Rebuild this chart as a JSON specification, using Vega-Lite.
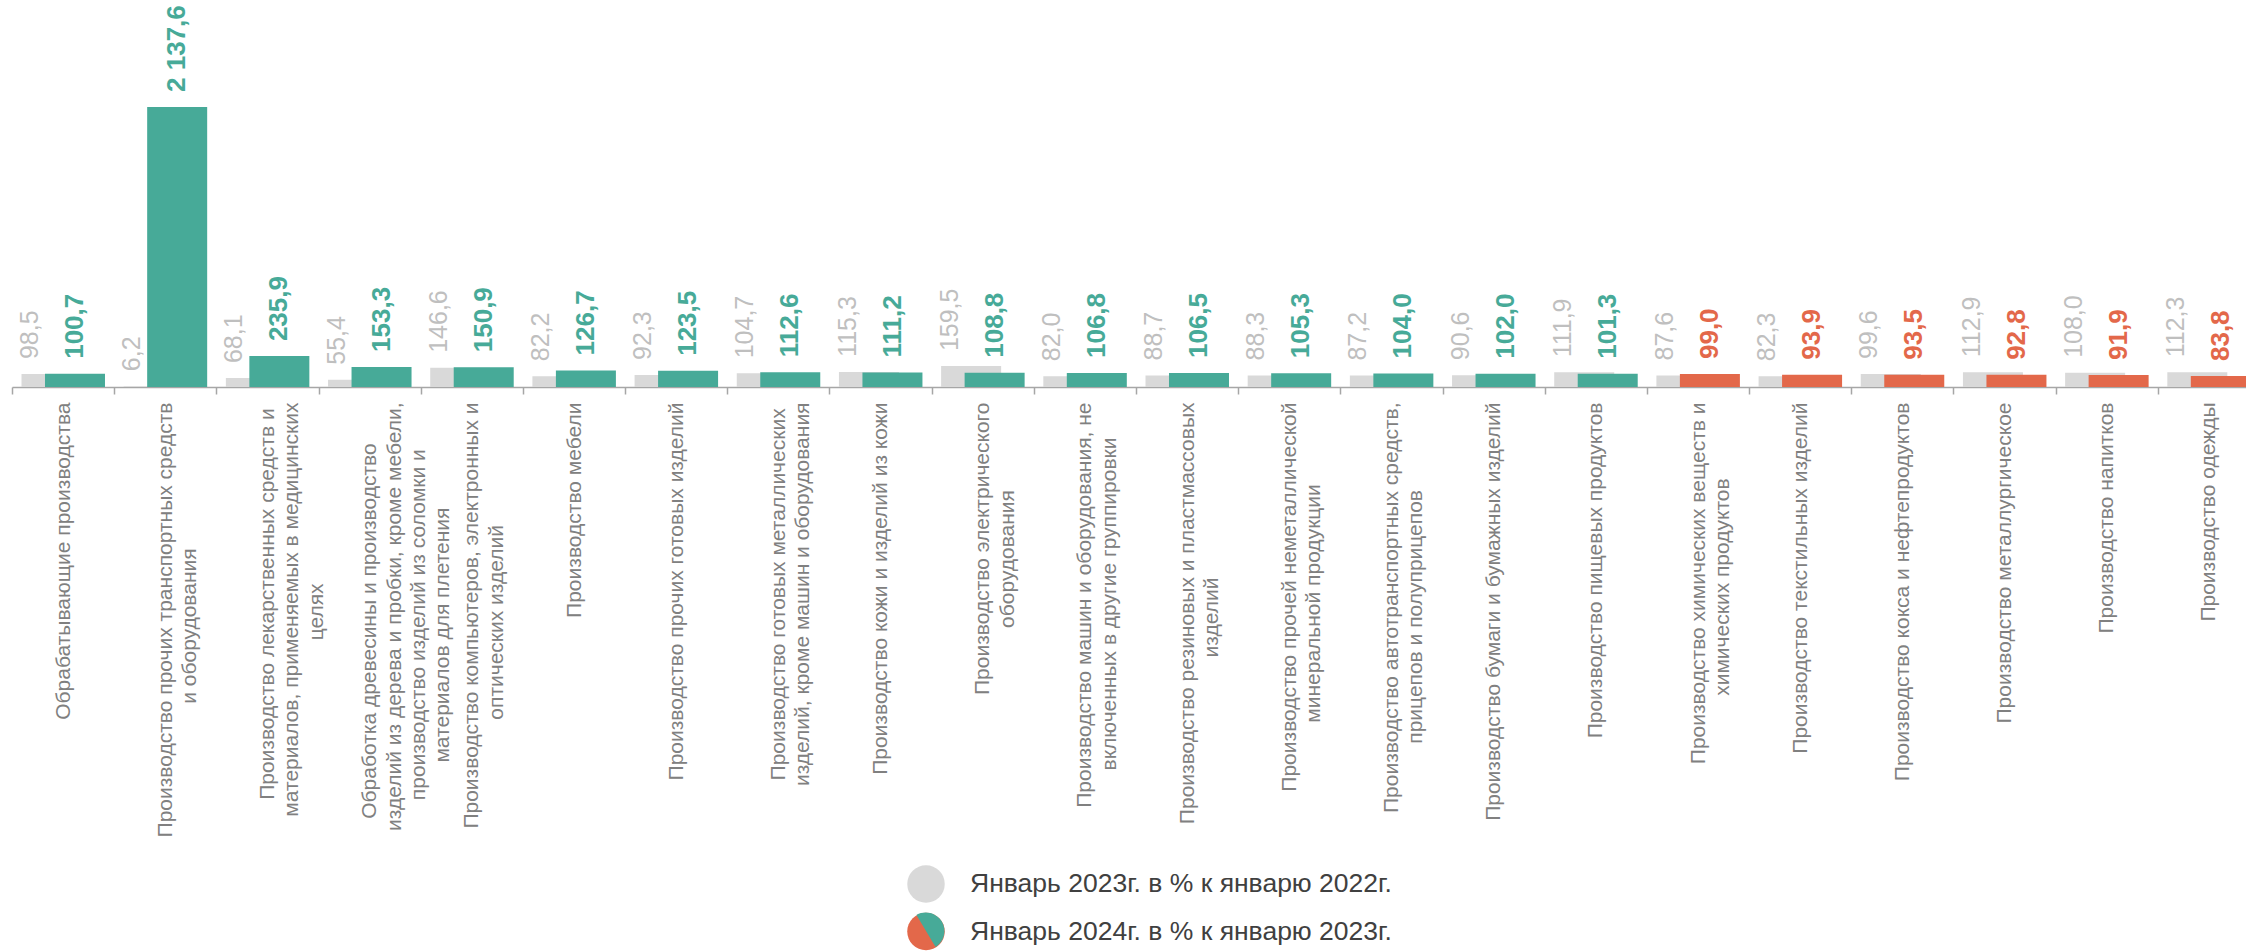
{
  "$schema": "https://vega.github.io/schema/vega-lite/v6.json",
  "width": 2234,
  "height": 387,
  "autosize": {"type": "none"},
  "padding": {"left": 12, "top": 0, "right": 0, "bottom": 564},
  "config": {
    "view": {"stroke": null},
    "font": "Liberation Sans",
    "locale": {"number": {"decimal": ",", "thousands": "\u00a0", "grouping": [3], "currency": ["", ""]}}
  },
  "data": {
    "values": [
      {"cat": "Обрабатывающие производства", "v2023": 98.5, "v2024": 100.7},
      {"cat": "Производство прочих транспортных средств|и оборудования", "v2023": 6.2, "v2024": 2137.6},
      {"cat": "Производство лекарственных средств и|материалов, применяемых в медицинских|целях", "v2023": 68.1, "v2024": 235.9},
      {"cat": "Обработка древесины и производство|изделий из дерева и пробки, кроме мебели,|производство изделий из соломки и|материалов для плетения", "v2023": 55.4, "v2024": 153.3},
      {"cat": "Производство компьютеров, электронных и|оптических изделий", "v2023": 146.6, "v2024": 150.9},
      {"cat": "Производство мебели", "v2023": 82.2, "v2024": 126.7},
      {"cat": "Производство прочих готовых изделий", "v2023": 92.3, "v2024": 123.5},
      {"cat": "Производство готовых металлических|изделий, кроме машин и оборудования", "v2023": 104.7, "v2024": 112.6},
      {"cat": "Производство кожи и изделий из кожи", "v2023": 115.3, "v2024": 111.2},
      {"cat": "Производство электрического|оборудования", "v2023": 159.5, "v2024": 108.8},
      {"cat": "Производство машин и оборудования, не|включенных в другие группировки", "v2023": 82.0, "v2024": 106.8},
      {"cat": "Производство резиновых и пластмассовых|изделий", "v2023": 88.7, "v2024": 106.5},
      {"cat": "Производство прочей неметаллической|минеральной продукции", "v2023": 88.3, "v2024": 105.3},
      {"cat": "Производство автотранспортных средств,|прицепов и полуприцепов", "v2023": 87.2, "v2024": 104.0},
      {"cat": "Производство бумаги и бумажных изделий", "v2023": 90.6, "v2024": 102.0},
      {"cat": "Производство пищевых продуктов", "v2023": 111.9, "v2024": 101.3},
      {"cat": "Производство химических веществ и|химических продуктов", "v2023": 87.6, "v2024": 99.0},
      {"cat": "Производство текстильных изделий", "v2023": 82.3, "v2024": 93.9},
      {"cat": "Производство кокса и нефтепродуктов", "v2023": 99.6, "v2024": 93.5},
      {"cat": "Производство металлургическое", "v2023": 112.9, "v2024": 92.8},
      {"cat": "Производство напитков", "v2023": 108.0, "v2024": 91.9},
      {"cat": "Производство одежды", "v2023": 112.3, "v2024": 83.8}
    ]
  },
  "encoding": {
    "x": {
      "field": "cat",
      "type": "nominal",
      "sort": null,
      "scale": {"range": [0, 2248], "paddingInner": 0, "paddingOuter": 0},
      "axis": {
        "title": null,
        "labelAngle": -90,
        "labelAlign": "right",
        "labelBaseline": "middle",
        "labelFont": "Liberation Sans",
        "labelFontSize": 21,
        "labelColor": "#808080",
        "labelLineHeight": 24.4,
        "labelLimit": 1000,
        "labelPadding": 8,
        "labelOverlap": false,
        "tickBand": "extent",
        "tickSize": 7,
        "tickWidth": 1.5,
        "tickColor": "#A6A6A6",
        "domainColor": "#A6A6A6",
        "domainWidth": 1.5,
        "labelExpr": "isString(datum.value) ? slice([pad(split(datum.value,'|')[0]||'',length(split(datum.value,'|')[0]||'')+round((max(length(split(datum.value,'|')[0]),length(split(datum.value,'|')[1]||''),length(split(datum.value,'|')[2]||''),length(split(datum.value,'|')[3]||''))-length(split(datum.value,'|')[0]||''))*0.98),'\u00a0')+'\u200b',pad(split(datum.value,'|')[1]||'',length(split(datum.value,'|')[1]||'')+round((max(length(split(datum.value,'|')[0]),length(split(datum.value,'|')[1]||''),length(split(datum.value,'|')[2]||''),length(split(datum.value,'|')[3]||''))-length(split(datum.value,'|')[1]||''))*0.98),'\u00a0')+'\u200b',pad(split(datum.value,'|')[2]||'',length(split(datum.value,'|')[2]||'')+round((max(length(split(datum.value,'|')[0]),length(split(datum.value,'|')[1]||''),length(split(datum.value,'|')[2]||''),length(split(datum.value,'|')[3]||''))-length(split(datum.value,'|')[2]||''))*0.98),'\u00a0')+'\u200b',pad(split(datum.value,'|')[3]||'',length(split(datum.value,'|')[3]||'')+round((max(length(split(datum.value,'|')[0]),length(split(datum.value,'|')[1]||''),length(split(datum.value,'|')[2]||''),length(split(datum.value,'|')[3]||''))-length(split(datum.value,'|')[3]||''))*0.98),'\u00a0')+'\u200b'],0,length(split(datum.value,'|'))) : ''"
      }
    }
  },
  "layer": [
    {
      "mark": {"type": "bar", "width": 60, "xOffset": -11.6},
      "encoding": {
        "y": {"field": "v2023", "type": "quantitative", "scale": {"domain": [0, 2954], "nice": false}, "axis": null},
        "color": {
          "datum": "Январь 2023г. в % к январю 2022г.",
          "scale": {"domain": ["Январь 2023г. в % к январю 2022г.", "Январь 2024г. в % к январю 2023г."], "range": ["#D9D9D9", "#E3684A"]},
          "legend": {
            "title": null,
            "orient": "none",
            "legendX": 895,
            "legendY": 865,
            "direction": "vertical",
            "symbolType": "circle",
            "symbolSize": 1406,
            "symbolStrokeWidth": 0,
            "labelFont": "Liberation Sans",
            "labelFontSize": 26.5,
            "labelColor": "#404040",
            "labelOffset": 25,
            "labelLimit": 1000,
            "rowPadding": 9.5,
            "padding": 0,
            "encode": {"symbols": {"update": {"fill": {"signal": "indexof(datum.value, '2023г. в') > 0 ? '#C0C0C0' : '#E3684A'"}, "strokeWidth": {"value": 0}}}}
          }
        }
      }
    },
    {
      "mark": {"type": "bar", "width": 60, "xOffset": 11.9},
      "encoding": {
        "y": {"field": "v2024", "type": "quantitative", "scale": {"domain": [0, 2954], "nice": false}, "axis": null},
        "color": {
          "condition": {"test": "datum.v2024 >= 100", "value": "#47AA98"},
          "datum": "Январь 2024г. в % к январю 2023г."
        },
        "opacity": {
          "datum": "2024",
          "type": "ordinal",
          "scale": {"domain": ["2024"], "range": [1, 1]},
          "legend": {
            "title": null,
            "orient": "none",
            "legendX": 895,
            "legendY": 912,
            "direction": "vertical",
            "symbolType": "M-0.51,-0.86A1,1,0,0,1,0.51,0.86Z",
            "symbolSize": 1406,
            "symbolStrokeWidth": 0,
            "symbolFillColor": "#47AA98",
            "symbolOpacity": 1,
            "labelExpr": "''",
            "padding": 0,
            "encode": {"symbols": {"update": {"fill": {"value": "#47AA98"}, "opacity": {"value": 1}, "strokeWidth": {"value": 0}}}}
          }
        }
      }
    },
    {
      "mark": {"type": "text", "angle": 270, "align": "left", "baseline": "middle", "dx": 15, "xOffset": -33, "font": "Liberation Sans", "fontSize": 25, "color": "#BFBFBF"},
      "encoding": {
        "y": {"field": "v2023", "type": "quantitative", "scale": {"domain": [0, 2954], "nice": false}, "axis": null},
        "text": {"field": "v2023", "type": "quantitative", "format": ",.1f"}
      }
    },
    {
      "mark": {"type": "text", "angle": 270, "align": "left", "baseline": "middle", "dx": 15, "xOffset": 12, "font": "Liberation Sans", "fontSize": 26, "fontWeight": "bold"},
      "encoding": {
        "y": {"field": "v2024", "type": "quantitative", "scale": {"domain": [0, 2954], "nice": false}, "axis": null},
        "text": {"field": "v2024", "type": "quantitative", "format": ",.1f"},
        "color": {"condition": {"test": "datum.v2024 >= 100", "value": "#47AA98"}, "value": "#E3684A"}
      }
    }
  ]
}
